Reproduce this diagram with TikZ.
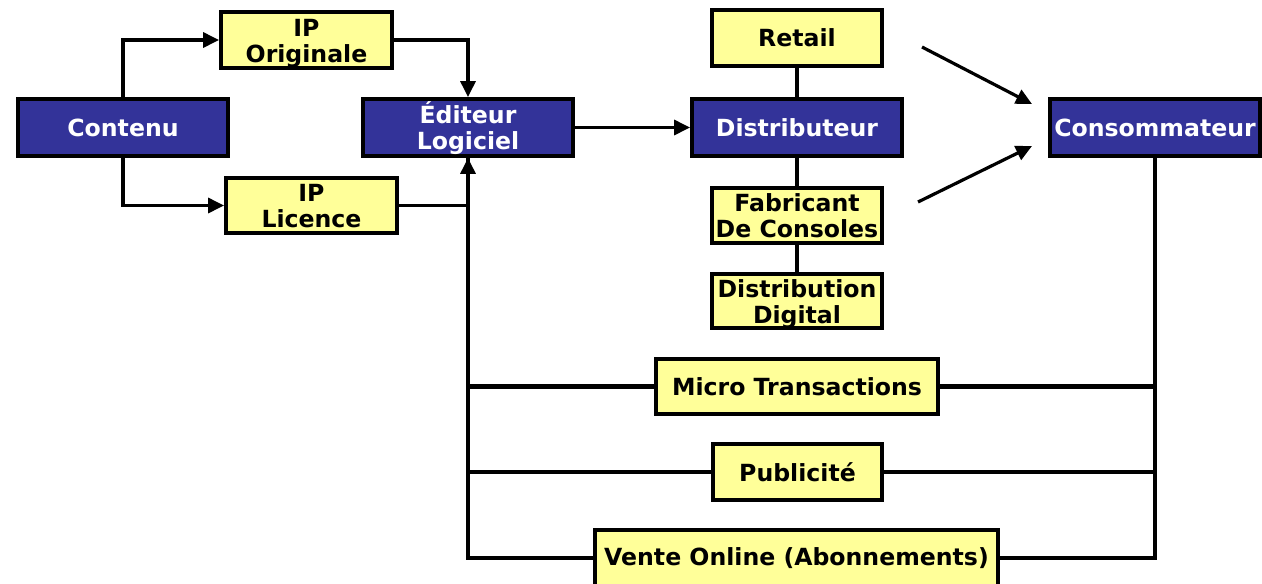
\documentclass[tikz,border=0pt]{standalone}
\usepackage{fontspec}
\setmainfont{DejaVu Sans}
\usetikzlibrary{arrows.meta}
\definecolor{boxblue}{HTML}{333399}
\definecolor{boxyellow}{HTML}{FFFF99}
\begin{document}
\begin{tikzpicture}[x=1pt,y=-1pt,
  base/.style={draw=black,line width=3.8pt,inner sep=0pt,align=center,
    font=\fontsize{23.6}{26}\selectfont\bfseries},
  twoline/.style={text height=44pt,text depth=0pt},
  bluebox/.style={base,fill=boxblue,text=white,minimum width=210pt,minimum height=57pt},
  yellowbox/.style={base,fill=boxyellow,text=black},
  conn/.style={line width=3.2pt},
  thickconn/.style={line width=4.6pt},
  arr/.style={conn,-{Triangle[length=16pt,width=15pt]}}]
\useasboundingbox (0,0) rectangle (1262,584);
% blue boxes
\node[bluebox] (contenu) at (123,127.5) {Contenu};
\node[bluebox,twoline] (edit) at (468,127.5) {Éditeur\\Logiciel};
\node[bluebox] (distr) at (797,127.5) {Distributeur};
\node[bluebox] (cons) at (1155,127.5) {Consommateur};
% yellow boxes
\node[yellowbox,twoline,minimum width=171pt,minimum height=56pt] (ipo) at (306.5,40) {IP\\Originale};
\node[yellowbox,twoline,minimum width=171pt,minimum height=55pt] (ipl) at (311.5,205.5) {IP\\Licence};
\node[yellowbox,minimum width=170pt,minimum height=56pt] (retail) at (797,38) {Retail};
\node[yellowbox,twoline,minimum width=170pt,minimum height=55pt] (fab) at (797,215.5) {Fabricant\\De Consoles};
\node[yellowbox,twoline,minimum width=170pt,minimum height=54pt] (dig) at (797,301) {Distribution\\Digital};
\node[yellowbox,minimum width=282pt,minimum height=55pt] (micro) at (797,386.5) {Micro Transactions};
\node[yellowbox,minimum width=169pt,minimum height=56pt] (pub) at (797.5,472) {Publicité};
\node[yellowbox,minimum width=403pt,minimum height=56pt] (vente) at (796.5,558) {Vente Online (Abonnements)};
% free arrow ends
\coordinate (a1s) at (922,47);
\coordinate (a1e) at (1032,104);
\coordinate (a2s) at (918,202);
\coordinate (a2e) at (1032,146);
% connectors
\draw[arr] (contenu.north) |- (ipo.west);
\draw[arr] (contenu.south) |- (ipl.west);
\draw[arr] (ipo.east) -| (edit.north);
\draw[conn] (ipl.east) -- (ipl.east -| edit.south);
\draw[thickconn] (micro.west) -| (edit.south);
\draw[thickconn] (pub.west) -| (edit.south);
\draw[arr] (vente.west) -| (edit.south);
\draw[arr] (edit.east) -- (distr.west);
\draw[conn] (retail.south) -- (distr.north);
\draw[conn] (distr.south) -- (fab.north);
\draw[conn] (fab.south) -- (dig.north);
\draw[conn] (cons.south) |- (vente.east);
\draw[thickconn] (micro.east) -- (micro.east -| cons.south);
\draw[thickconn] (pub.east) -- (pub.east -| cons.south);
\draw[arr] (a1s) -- (a1e);
\draw[arr] (a2s) -- (a2e);
\end{tikzpicture}
\end{document}
